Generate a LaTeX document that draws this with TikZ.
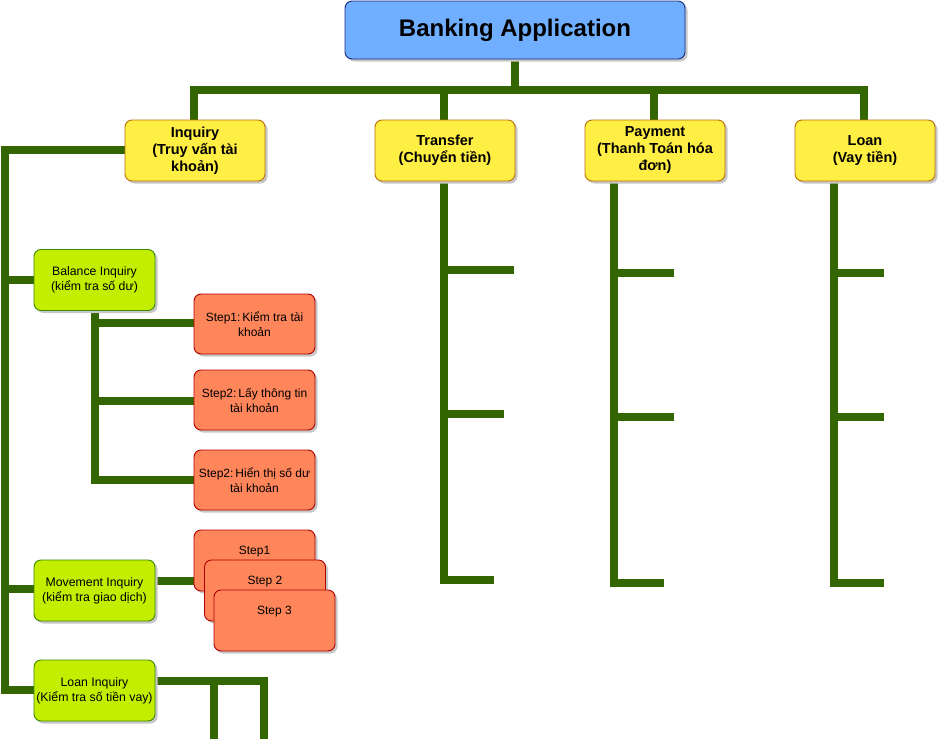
\documentclass[tikz,border=0pt]{standalone}
\usepackage{fontspec}
\setmainfont{Liberation Sans}
\usetikzlibrary{shadows}
\definecolor{wire}{HTML}{336600}
\definecolor{bluef}{HTML}{70AEFF}
\definecolor{blueb}{HTML}{1A2A80}
\definecolor{yelf}{HTML}{FFEE44}
\definecolor{yelb}{HTML}{B8700A}
\definecolor{grnf}{HTML}{C4EE00}
\definecolor{grnb}{HTML}{3E8A00}
\definecolor{orgf}{HTML}{FF855A}
\definecolor{orgb}{HTML}{B00000}
\tikzset{
  boxbase/.style={draw, line width=0.9pt, rounded corners=7pt, align=center, inner sep=1pt,
    drop shadow={shadow xshift=2.5pt, shadow yshift=-2.5pt, fill=black!22, opacity=1}},
  topbox/.style={boxbase, fill=bluef, draw=blueb, minimum width=340pt, minimum height=58pt,
    font=\fontsize{24}{27}\selectfont\bfseries},
  catbox/.style={boxbase, fill=yelf, draw=yelb, minimum width=140pt, minimum height=61pt,
    font=\fontsize{14.5}{17}\selectfont\bfseries},
  subbox/.style={boxbase, fill=grnf, draw=grnb, minimum width=121pt, minimum height=61pt,
    font=\fontsize{12.3}{15}\selectfont},
  stepbox/.style={boxbase, fill=orgf, draw=orgb, minimum width=121pt, minimum height=60pt,
    font=\fontsize{12}{15}\selectfont},
  steplabel/.style={font=\fontsize{12}{15}\selectfont},
  wire/.style={draw=wire, line width=8pt},
}
\begin{document}
\begin{tikzpicture}[x=1pt,y=-1pt]
\useasboundingbox (0,0) rectangle (938,739);

% ---- connectors (drawn first, under the boxes)
\coordinate (bus) at (515,89.5);
\coordinate (busL) at (190,89.5);
\coordinate (busR) at (868,89.5);
\draw[wire] (515,58) -- (bus);
\draw[wire] (busL) -- (busR);
\draw[wire] (194,89.5) -- (194,121);
\draw[wire] (444,89.5) -- (444,121);
\draw[wire] (654,89.5) -- (654,121);
\draw[wire] (864,89.5) -- (864,121);

% Inquiry spine
\draw[wire] (126,150) -- (0.5,150);
\draw[wire] (4.5,146) -- (4.5,694);
\draw[wire] (0.5,280) -- (35,280);
\draw[wire] (0.5,589) -- (35,589);
\draw[wire] (0.5,690) -- (35,690);

% Balance inquiry tree
\draw[wire] (95,310) -- (95,484);
\draw[wire] (91,323) -- (195,323);
\draw[wire] (91,401) -- (195,401);
\draw[wire] (91,480) -- (195,480);

% Movement inquiry
\draw[wire] (154,580.5) -- (195,580.5);

% Loan inquiry
\draw[wire] (154,680.5) -- (268,680.5);
\draw[wire] (214,677) -- (214,739);
\draw[wire] (264,677) -- (264,739);

% Transfer branch
\draw[wire] (444,181) -- (444,584);
\draw[wire] (440,270) -- (514,270);
\draw[wire] (440,414) -- (504,414);
\draw[wire] (440,580) -- (494,580);
% Payment branch
\draw[wire] (614,181) -- (614,587);
\draw[wire] (610,272.5) -- (674,272.5);
\draw[wire] (610,416.5) -- (674,416.5);
\draw[wire] (610,582.5) -- (664,582.5);
% Loan branch
\draw[wire] (834,181) -- (834,587);
\draw[wire] (830,273) -- (884,273);
\draw[wire] (830,417) -- (884,417);
\draw[wire] (830,583) -- (884,583);

% ---- boxes
\node[topbox] (app) at (515,30) {Banking Application};

\node[catbox] (inq) at (195,150.5) {Inquiry\\(Truy vấn tài\\khoản)};
\node[catbox] (tra) at (445,150.5) {Transfer\\(Chuyển tiền)};
\node[catbox] (pay) at (655,150.5) {Payment\\(Thanh Toán hóa\\đơn)};
\node[catbox] (loan) at (865,150.5) {Loan\\(Vay tiền)};

\node[subbox] (bal) at (94.5,280) {Balance Inquiry\\(kiểm tra số dư)};
\node[subbox] (mov) at (94.5,590.5) {Movement Inquiry\\(kiểm tra giao dịch)};
\node[subbox] (lin) at (94.5,690.5) {Loan Inquiry\\(Kiểm tra số tiền vay)};

\node[stepbox] (s1) at (254.5,324) {Step1:\,Kiểm tra tài\\khoản};
\node[stepbox] (s2) at (254.5,400) {Step2:\,Lấy thông tin\\tài khoản};
\node[stepbox] (s3) at (254.5,480) {Step2:\,Hiển thị số dư\\tài khoản};

\node[stepbox, minimum height=61pt] (m1) at (254.5,560.5) {};
\node[steplabel] (m1t) at (254.5,552) {Step1};
\node[stepbox, minimum height=61pt] (m2) at (265,590.5) {};
\node[steplabel] (m2t) at (265,582) {Step 2};
\node[stepbox, minimum height=61pt] (m3) at (274.5,620.5) {};
\node[steplabel] (m3t) at (274.5,611.5) {Step 3};
\end{tikzpicture}
\end{document}
